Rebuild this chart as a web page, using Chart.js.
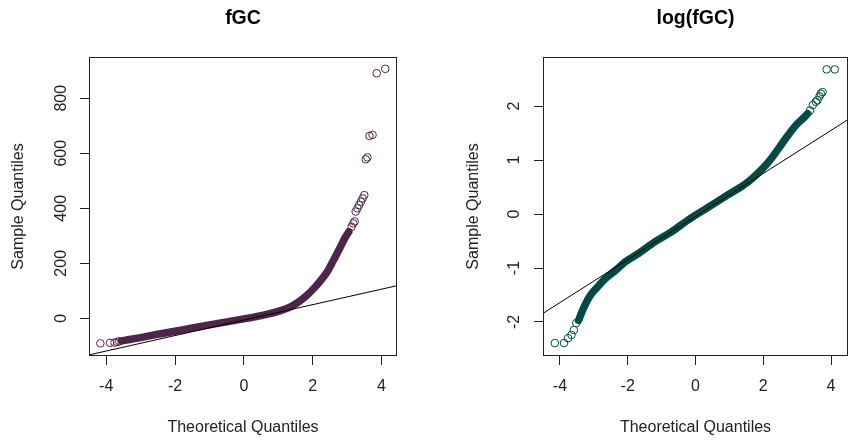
<!DOCTYPE html>
<html>
<head>
<meta charset="utf-8">
<script src="https://cdn.jsdelivr.net/npm/chart.js@4.4.1/dist/chart.umd.min.js"></script>
<style>
  html, body { margin: 0; padding: 0; background: #fff; overflow: hidden; width: 849px; height: 440px; }
  .panel { position: absolute; top: 0; }
</style>
</head>
<body>
<div class="panel" style="left:0"><canvas id="fgcChart" width="425" height="440"></canvas></div>
<div class="panel" style="left:425px"><canvas id="logChart" width="428" height="440"></canvas></div>
<script>
// fGC panel: theoretical vs sample quantiles
const fgcBandX = [-3.55, -3.0, -2.5, -2.0, -1.5, -1.0, -0.5, 0, 0.5, 1.0, 1.4, 1.8, 2.1, 2.4, 2.6, 2.8, 2.95, 3.05];
const fgcBandY = [-82, -70, -58, -47, -35, -24, -13, -2, 10, 25, 45, 80, 118, 165, 210, 258, 295, 315];
const fgcTailX = [-4.17, -3.89, -3.76, -3.68, -3.62, 3.13, 3.18, 3.22, 3.25, 3.30, 3.35, 3.40, 3.45, 3.50, 3.54, 3.59, 3.65, 3.74, 3.86, 4.11];
const fgcTailY = [-91, -89, -88, -86, -84, 333, 345, 352, 388, 400, 412, 424, 436, 448, 578, 585, 663, 667, 891, 907];
const fgcLineX = [-4.5, 4.5];
const fgcLineY = [-133, 120];
const fgcXTicks = [-4, -2, 0, 2, 4];
const fgcYTicks = [0, 200, 400, 600, 800];

// log(fGC) panel
const logBandX = [-3.45, -3.33, -3.13, -2.89, -2.65, -2.35, -2.06, -1.68, -1.19, -0.71, -0.22, 0.36, 0.94, 1.52, 1.91, 2.2, 2.49, 2.73, 2.97, 3.17, 3.31];
const logBandY = [-1.97, -1.78, -1.53, -1.35, -1.19, -1.04, -0.88, -0.73, -0.51, -0.33, -0.11, 0.12, 0.35, 0.58, 0.80, 1.0, 1.25, 1.46, 1.65, 1.77, 1.86];
const logTailX = [-4.15, -3.88, -3.76, -3.66, -3.59, -3.52, 3.38, 3.46, 3.55, 3.60, 3.66, 3.70, 3.75, 3.87, 4.11];
const logTailY = [-2.39, -2.39, -2.30, -2.24, -2.15, -2.02, 1.92, 2.02, 2.08, 2.11, 2.18, 2.23, 2.26, 2.68, 2.68];
const logLineX = [-4.5, 4.5];
const logLineY = [-1.84, 1.75];
const logXTicks = [-4, -2, 0, 2, 4];
const logYTicks = [-2, -1, 0, 1, 2];

const FONT = "'Liberation Sans', Arial, sans-serif";
const INK = "#222";

function pts(xs, ys) {
  return xs.map((x, i) => ({ x: x, y: ys[i] }));
}

// R style box, main title and rotated y tick labels
const rStyle = {
  id: "rStyle",
  afterDraw(chart, args, opts) {
    const ctx = chart.ctx;
    const ca = chart.chartArea;
    ctx.save();
    ctx.strokeStyle = INK;
    ctx.lineWidth = 1;
    ctx.strokeRect(ca.left + 0.5, ca.top + 0.5, ca.right - ca.left - 1, ca.bottom - ca.top - 1);

    ctx.fillStyle = "#000";
    ctx.font = "bold 19.5px " + FONT;
    ctx.textAlign = "center";
    ctx.textBaseline = "alphabetic";
    ctx.fillText(opts.title, (ca.left + ca.right) / 2, 24);

    const ys = chart.scales.y;
    ctx.fillStyle = INK;
    ctx.font = "16px " + FONT;
    ys.ticks.forEach(t => {
      const py = ys.getPixelForValue(t.value);
      ctx.save();
      ctx.translate(opts.labelX, py);
      ctx.rotate(-Math.PI / 2);
      ctx.fillText(String(t.value), 0, 0);
      ctx.restore();
    });
    ctx.restore();
  }
};

function makeChart(id, cfg) {
  return new Chart(document.getElementById(id), {
    type: "scatter",
    data: {
      datasets: [
        {
          type: "line",
          data: pts(cfg.lineX, cfg.lineY),
          borderColor: "#000",
          borderWidth: 1,
          pointRadius: 0
        },
        {
          type: "line",
          data: pts(cfg.bandX, cfg.bandY),
          borderColor: cfg.color,
          borderWidth: 7.5,
          borderCapStyle: "round",
          borderJoinStyle: "round",
          cubicInterpolationMode: "monotone",
          pointRadius: 0
        },
        {
          data: pts(cfg.tailX, cfg.tailY),
          borderColor: cfg.color,
          backgroundColor: "rgba(0,0,0,0)",
          pointRadius: 3.8,
          pointBorderWidth: 1
        }
      ]
    },
    options: {
      responsive: false,
      animation: false,
      layout: { padding: { top: 57, left: 0, right: cfg.padRight, bottom: 0 } },
      plugins: {
        legend: { display: false },
        tooltip: { enabled: false },
        rStyle: { title: cfg.title, labelX: cfg.labelX }
      },
      scales: {
        x: {
          type: "linear",
          min: cfg.xMin,
          max: cfg.xMax,
          afterBuildTicks: s => { s.ticks = cfg.xTicks.map(v => ({ value: v })); },
          afterFit: s => { s.height = 84; },
          border: { display: false },
          grid: { drawOnChartArea: false, drawTicks: true, tickLength: 9, color: INK },
          ticks: { color: INK, padding: 12, font: { family: FONT, size: 16 }, maxRotation: 0 },
          title: {
            display: true,
            text: "Theoretical Quantiles",
            color: INK,
            font: { family: FONT, size: 16 },
            padding: { top: 0, bottom: 2.7 }
          }
        },
        y: {
          type: "linear",
          min: cfg.yMin,
          max: cfg.yMax,
          afterBuildTicks: s => { s.ticks = cfg.yTicks.map(v => ({ value: v })); },
          afterFit: s => { s.width = cfg.yWidth; },
          border: { display: false },
          grid: { drawOnChartArea: false, drawTicks: true, tickLength: 9, color: INK },
          ticks: { display: false },
          title: {
            display: true,
            text: "Sample Quantiles",
            color: INK,
            font: { family: FONT, size: 16 },
            padding: { top: cfg.titlePad, bottom: 0 }
          }
        }
      }
    },
    plugins: [rStyle]
  });
}

makeChart("fgcChart", {
  title: "fGC",
  color: "#4f2449",
  lineX: fgcLineX, lineY: fgcLineY,
  bandX: fgcBandX, bandY: fgcBandY,
  tailX: fgcTailX, tailY: fgcTailY,
  xTicks: fgcXTicks, yTicks: fgcYTicks,
  xMin: -4.5, xMax: 4.45,
  yMin: -137, yMax: 950,
  yWidth: 89, padRight: 28,
  titlePad: 9.4, labelX: 65.7
});

makeChart("logChart", {
  title: "log(fGC)",
  color: "#004b44",
  lineX: logLineX, lineY: logLineY,
  bandX: logBandX, bandY: logBandY,
  tailX: logTailX, tailY: logTailY,
  xTicks: logXTicks, yTicks: logYTicks,
  xMin: -4.5, xMax: 4.5,
  yMin: -2.63, yMax: 2.91,
  yWidth: 118, padRight: 0.5,
  titlePad: 38.7, labelX: 94
});
</script>
</body>
</html>
